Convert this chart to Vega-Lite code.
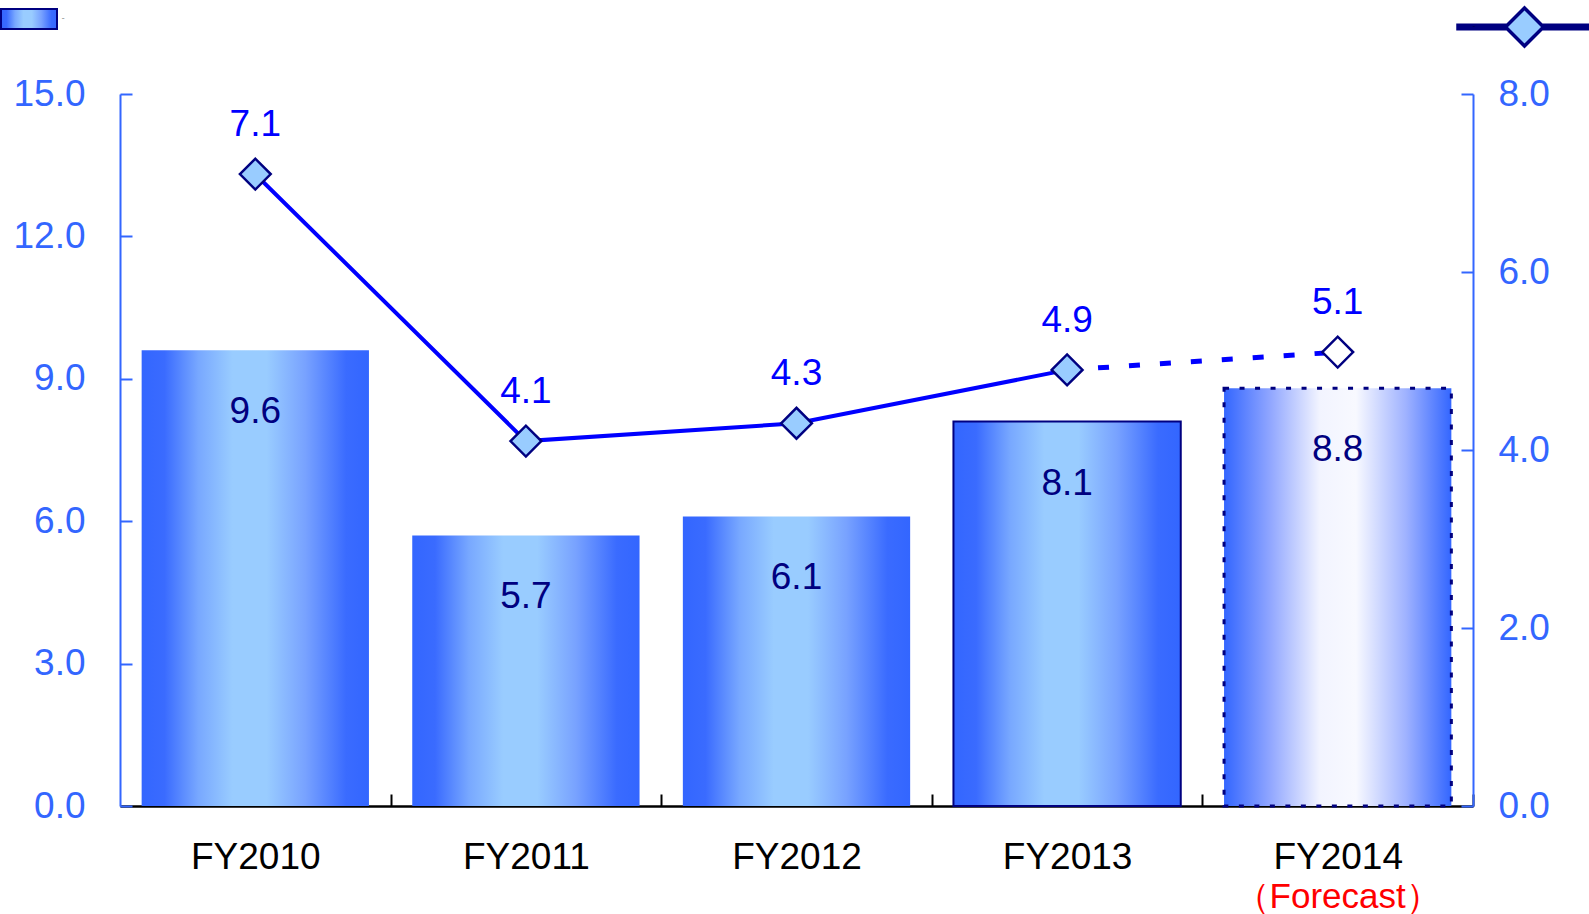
{
  "$schema": "https://vega.github.io/schema/vega-lite/v6.json",
  "width": 1353,
  "height": 712,
  "autosize": {"type": "none"},
  "padding": {"left": 120, "top": 94, "right": 116, "bottom": 108},
  "background": "white",
  "config": {
    "font": "Liberation Sans",
    "view": {"stroke": null},
    "axis": {"grid": false, "labelFont": "Liberation Sans", "labelFontSize": 37, "titleFont": "Liberation Sans"},
    "legend": {"padding": 0, "title": null, "labelExpr": "''", "labelFontSize": 1}
  },
  "data": {
    "values": [
      {"year": "FY2010", "sales": 9.6, "ratio": 7.1},
      {"year": "FY2011", "sales": 5.7, "ratio": 4.1},
      {"year": "FY2012", "sales": 6.1, "ratio": 4.3},
      {"year": "FY2013", "sales": 8.1, "ratio": 4.9},
      {"year": "FY2014", "sales": 8.8, "ratio": 5.1}
    ]
  },
  "encoding": {
    "x": {
      "field": "year", "type": "nominal", "sort": null,
      "scale": {"paddingInner": 0.16, "paddingOuter": 0.08},
      "axis": {
        "title": null, "labelAngle": 0, "labelColor": "#000000", "labelPadding": 45,
        "labelOffset": -21.65,
        "domainColor": "#000000", "domainWidth": 2.5, "tickColor": "#000000", "tickWidth": 2,
        "tickSize": -12, "bandPosition": 1, "tickOffset": 21.65
      }
    }
  },
  "layer": [
    {
      "encoding": {
        "y": {
          "field": "sales", "type": "quantitative",
          "scale": {"domain": [0, 15], "nice": false, "zero": true},
          "axis": {
            "title": null, "values": [0, 3, 6, 9, 12, 15], "format": ".1f",
            "labelColor": "#3366FF", "domainColor": "#3366FF", "domainWidth": 2,
            "tickColor": "#3366FF", "tickWidth": 2, "tickSize": -12, "labelPadding": 47
          }
        }
      },
      "layer": [
        {
          "transform": [{"filter": "datum.year != 'FY2014'"}],
          "mark": {
            "type": "bar", "stroke": "#000080", "strokeWidth": 2,
            "fill": {"gradient": "linear", "x1": 0, "y1": 0, "x2": 1, "y2": 0,
              "stops": [
                {"offset": 0, "color": "#3366FF"},
                {"offset": 0.1, "color": "#3A6BFF"},
                {"offset": 0.25, "color": "#78A8FF"},
                {"offset": 0.4, "color": "#99CCFF"},
                {"offset": 0.55, "color": "#99CCFF"},
                {"offset": 0.72, "color": "#78A2FF"},
                {"offset": 0.9, "color": "#3A6BFF"},
                {"offset": 1, "color": "#3366FF"}
              ]}
          },
          "encoding": {
            "strokeOpacity": {"condition": {"test": "datum.year == 'FY2013'", "value": 1}, "value": 0},
            "opacity": {
              "datum": "sales", "type": "nominal", "scale": {"domain": ["sales"], "range": [1]},
              "legend": {
                "orient": "none", "legendX": -120, "legendY": -104,
                "symbolType": "M-1,-0.36H1V0.36H-1Z", "symbolSize": 3136,
                "symbolStrokeWidth": 2
              }
            }
          }
        },
        {
          "transform": [{"filter": "datum.year == 'FY2014'"}],
          "mark": {
            "type": "bar", "stroke": "#000080", "strokeWidth": 3, "strokeDash": [5, 10.5],
            "fill": {"gradient": "linear", "x1": 0, "y1": 0, "x2": 1, "y2": 0,
              "stops": [
                {"offset": 0, "color": "#3366FF"},
                {"offset": 0.2, "color": "#8FA5FF"},
                {"offset": 0.42, "color": "#F2F4FF"},
                {"offset": 0.58, "color": "#F8F9FF"},
                {"offset": 0.8, "color": "#9FB2FF"},
                {"offset": 1, "color": "#3366FF"}
              ]}
          }
        },
        {
          "mark": {"type": "text", "fontSize": 37, "color": "#000080", "baseline": "middle", "dy": 62},
          "encoding": {
            "text": {"field": "sales", "type": "quantitative", "format": ".1f"}
          }
        },
        {
          "transform": [{"filter": "datum.year == 'FY2014'"}],
          "mark": {"type": "text", "fontSize": 35, "color": "#FF0000", "baseline": "middle"},
          "encoding": {
            "y": {"datum": -1.92, "type": "quantitative"},
            "text": {"value": "（Forecast）"}
          }
        }
      ]
    },
    {
      "encoding": {
        "y": {
          "field": "ratio", "type": "quantitative",
          "scale": {"domain": [0, 8], "nice": false, "zero": true},
          "axis": {
            "title": null, "orient": "right", "values": [0, 2, 4, 6, 8], "format": ".1f",
            "labelColor": "#3366FF", "domainColor": "#3366FF", "domainWidth": 2,
            "tickColor": "#3366FF", "tickWidth": 2, "tickSize": -12, "labelPadding": 37
          }
        }
      },
      "layer": [
        {
          "transform": [{"filter": "datum.year != 'FY2014'"}],
          "mark": {"type": "line", "color": "#0000FF", "strokeWidth": 4}
        },
        {
          "transform": [{"filter": "datum.year == 'FY2013' || datum.year == 'FY2014'"}],
          "mark": {"type": "line", "color": "#0000FF", "strokeWidth": 5, "strokeDash": [11, 20]}
        },
        {
          "mark": {"type": "point", "shape": "diamond", "filled": false, "size": 950, "stroke": "#000080", "strokeWidth": 2.5},
          "encoding": {
            "fill": {"condition": {"test": "datum.year == 'FY2014'", "value": "#FFFFFF"}, "value": "#99CCFF"},
            "opacity": {
              "datum": "point", "type": "nominal", "scale": {"domain": ["point"], "range": [1]},
              "legend": {
                "orient": "none", "legendX": 1336, "legendY": -135.5,
                "symbolType": "M-1,-0.0263H-0.29V0.0263H-1Z M0.29,-0.0263H1V0.0263H0.29Z M-0.2857,0L0,-0.2857L0.2857,0L0,0.2857Z",
                "symbolSize": 17689, "symbolStrokeWidth": 3.5,
                "labelOffset": -120
              }
            }
          }
        },
        {
          "mark": {"type": "text", "fontSize": 37, "color": "#0000FF", "baseline": "middle", "dy": -49},
          "encoding": {"text": {"field": "ratio", "type": "quantitative", "format": ".1f"}}
        }
      ]
    }
  ],
  "resolve": {"scale": {"y": "independent", "opacity": "independent"}, "legend": {"opacity": "independent"}}
}
